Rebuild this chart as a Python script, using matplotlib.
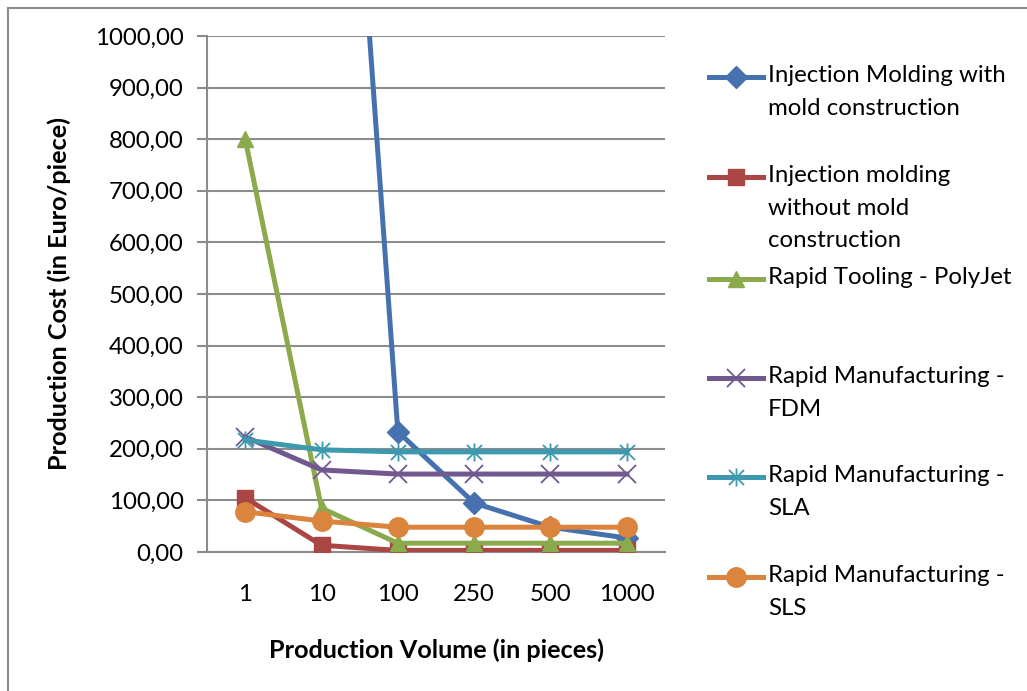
import matplotlib.pyplot as plt
from matplotlib.lines import Line2D
from matplotlib.path import Path

plt.rcParams['font.family'] = ['Lato', 'DejaVu Sans']

volumes = ['1', '10', '100', '250', '500', '1000']

inj_with_mold = [23000, 2300, 233, 95, 48, 27]
inj_without_mold = [105, 13, 3, 3, 3, 3]
rt_polyjet = [800, 85, 17, 17, 17, 17]
rm_fdm = [223, 159, 151, 151, 151, 151]
rm_sla = [217, 198, 194, 194, 194, 194]
rm_sls = [78, 60, 48, 48, 48, 48]

labels = ['Injection Molding with\nmold construction',
          'Injection molding\nwithout mold\nconstruction',
          'Rapid Tooling - PolyJet',
          'Rapid Manufacturing -\nFDM',
          'Rapid Manufacturing -\nSLA',
          'Rapid Manufacturing -\nSLS']

colors = ['#4572AE', '#AA4643', '#8AAA4B', '#71588F', '#3E98AE', '#DB843D']

# excel style asterisk: x plus vertical bar
star = Path([(-1, -1), (1, 1), (-1, 1), (1, -1), (0, -1.2), (0, 1.2)],
            [Path.MOVETO, Path.LINETO, Path.MOVETO, Path.LINETO, Path.MOVETO, Path.LINETO])

styles = [dict(marker='D', ms=11),
          dict(marker='s', ms=12),
          dict(marker='^', ms=12),
          dict(marker='x', ms=13, mew=1.3, mfc='none'),
          dict(marker=star, ms=13, mew=1.3, mfc='none'),
          dict(marker='o', ms=14)]

series = [inj_with_mold, inj_without_mold, rt_polyjet, rm_fdm, rm_sla, rm_sls]

fs = 17.3

fig = plt.figure(figsize=(10.27, 6.91), dpi=100)
ax = fig.add_axes([0.2016, 0.2012, 0.4459, 0.7467])

x = list(range(len(volumes)))
for i, (vals, st) in enumerate(zip(series, styles)):
    ax.plot(x, vals, color=colors[i], lw=3.6, mec=colors[i], zorder=3 + i, **st)

ax.set_ylim(0, 1000)
ax.set_xlim(-0.5, len(volumes) - 0.5)
ax.set_yticks(range(0, 1001, 100))
ax.set_yticklabels([f'{v},00' for v in range(0, 1001, 100)], fontsize=fs)
ax.set_xticks(x)
ax.set_xticklabels(volumes, fontsize=fs)
ax.tick_params(axis='x', length=0, pad=23)
ax.tick_params(axis='y', length=7, width=1.5, color='#8C8C8C', pad=10)
ax.yaxis.grid(True, color='#8C8C8C', lw=1.5)
ax.set_axisbelow(True)
for s in ['top', 'right']:
    ax.spines[s].set_visible(False)
for s in ['left', 'bottom']:
    ax.spines[s].set_color('#8C8C8C')
    ax.spines[s].set_linewidth(1.5)

ax.set_xlabel('Production Volume (in pieces)', fontsize=18.2, fontweight='bold', labelpad=24)
ax.set_ylabel('Production Cost (in Euro/piece)', fontsize=18.2, fontweight='bold', labelpad=17)

# legend drawn by hand to match excel layout
W, H = 1027, 691
leg_y = [77, 177, 279, 378, 477, 577]
for i, lab in enumerate(labels):
    yf = 1 - leg_y[i] / H
    st = dict(styles[i])
    fig.add_artist(Line2D([709 / W, 763 / W], [yf, yf], color=colors[i], lw=3.6))
    fig.add_artist(Line2D([736 / W], [yf], color=colors[i], mec=colors[i], **st))
    fig.text(768 / W, yf + 12 / H, lab, fontsize=fs, va='top', ha='left', linespacing=1.68)

# chart frame
fig.add_artist(Line2D([8 / W, 8 / W], [0, 1 - 8 / H], color='#8C8C8C', lw=1.5))
fig.add_artist(Line2D([8 / W, 1], [1 - 8 / H, 1 - 8 / H], color='#8C8C8C', lw=1.5))

fig.savefig('out.png', dpi=100)
